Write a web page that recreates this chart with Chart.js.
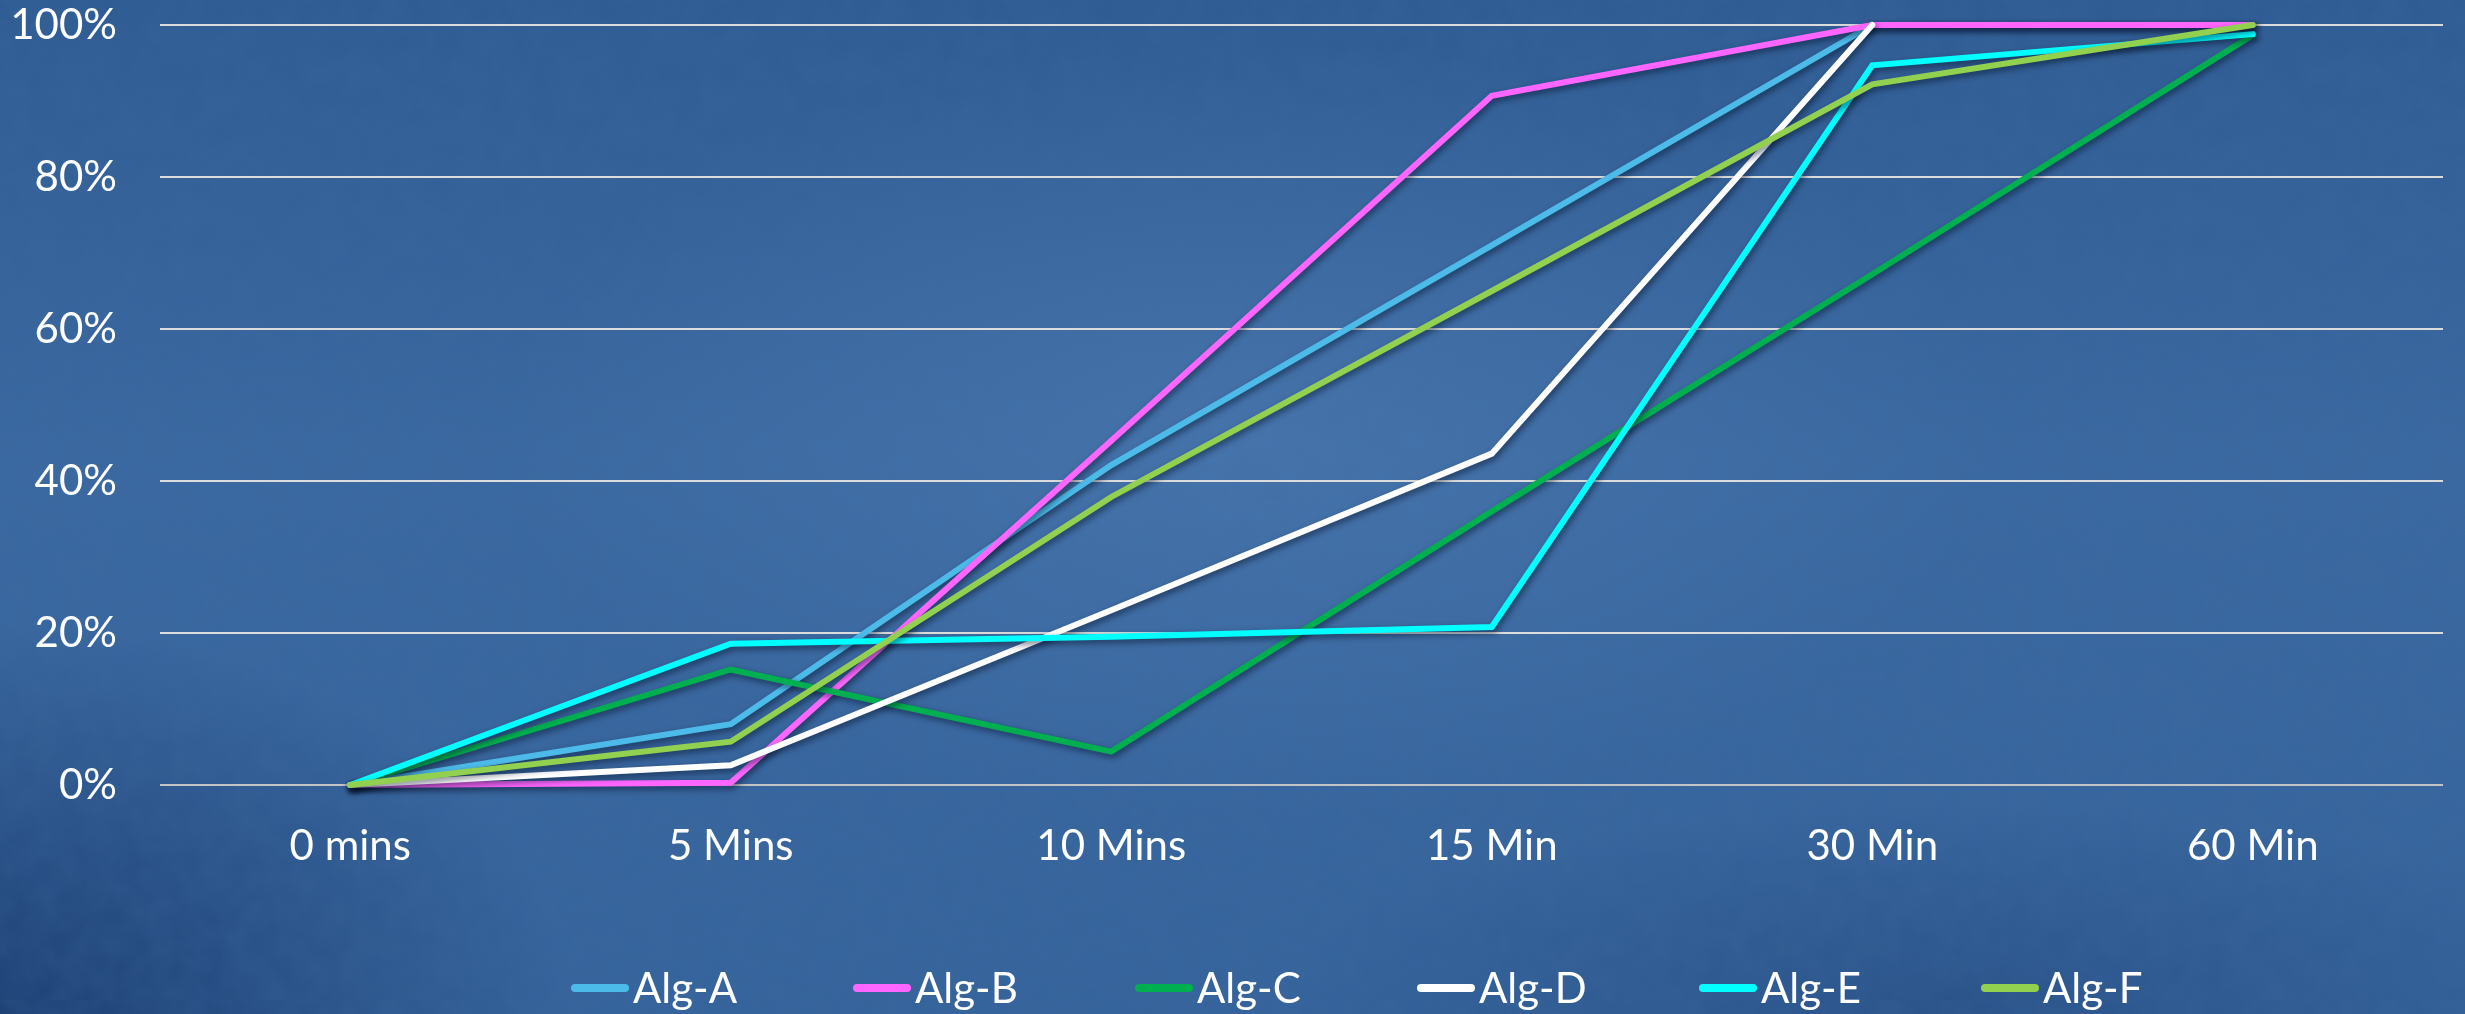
<!DOCTYPE html>
<html>
<head>
<meta charset="utf-8">
<title>Algorithm completion over time</title>
<script src="https://cdn.jsdelivr.net/npm/chart.js@4.4.1/dist/chart.umd.min.js"></script>
<style>
  html, body { margin: 0; padding: 0; width: 2465px; height: 1014px; overflow: hidden; }
  body {
    background:
      url("data:image/svg+xml;utf8,<svg xmlns='http://www.w3.org/2000/svg' width='500' height='500'><filter id='n'><feTurbulence type='fractalNoise' baseFrequency='0.035' numOctaves='4' seed='7' stitchTiles='stitch'/><feColorMatrix values='0 0 0 0 0.05  0 0 0 0 0.15  0 0 0 0 0.35  0 0 0 0.35 -0.08'/></filter><rect width='100%' height='100%' filter='url(%23n)'/></svg>"),
      radial-gradient(ellipse 1000px 520px at 1250px 430px, rgba(92,138,192,0.35), rgba(92,138,192,0) 75%),
      radial-gradient(ellipse 760px 520px at 0px 1014px, rgba(14,42,92,0.6), rgba(14,42,92,0) 75%),
      radial-gradient(ellipse 900px 260px at 1950px 1000px, rgba(18,48,100,0.3), rgba(18,48,100,0) 75%),
      linear-gradient(180deg, #2f5c93 0%, #3a68a0 45%, #35639b 100%);
  }
  #c { display: block; }
</style>
</head>
<body>
<canvas id="c" width="2465" height="1014"></canvas>
<script>
// Time points along the x axis
const categories = ['0 mins', '5 Mins', '10 Mins', '15 Min', '30 Min', '60 Min'];

// Share of runs finished (%) for each algorithm at every time point
const algA = [0, 8.0, 42.1, 71.0, 100, 100];
const algB = [0, 0.3, 45.3, 90.7, 100, 100];
const algC = [0, 15.2, 4.4, 36.0, 67.2, 98.7];
const algD = [0, 2.6, 23.0, 43.6, 100, null];
const algE = [0, 18.6, 19.5, 20.8, 94.7, 98.8];
const algF = [0, 5.7, 37.9, 65.0, 92.2, 100];

// Y axis ticks (percent)
const yTicks = [0, 20, 40, 60, 80, 100];

const seriesNames  = ['Alg-A', 'Alg-B', 'Alg-C', 'Alg-D', 'Alg-E', 'Alg-F'];
const seriesValues = [algA, algB, algC, algD, algE, algF];
const seriesColors = ['#4dbbe9', '#ff66ff', '#00b050', '#ffffff', '#00ffff', '#92d050'];

const FONT = 'Lato';
const FONT_SIZE = 42;

// Soft drop shadow under the plotted lines
const lineShadow = {
  id: 'lineShadow',
  beforeDatasetsDraw(chart) {
    const ctx = chart.ctx;
    ctx.save();
    ctx.shadowColor = 'rgba(0, 12, 35, 0.55)';
    ctx.shadowBlur = 6;
    ctx.shadowOffsetX = 2;
    ctx.shadowOffsetY = 3;
  },
  afterDatasetsDraw(chart) {
    chart.ctx.restore();
  }
};

// Legend row along the bottom: short line swatch followed by the series name
const bottomLegend = {
  id: 'bottomLegend',
  afterDraw(chart) {
    const ctx = chart.ctx;
    const x0 = 571, step = 282, y = 988;
    ctx.save();
    ctx.font = FONT_SIZE + 'px ' + FONT;
    ctx.textBaseline = 'alphabetic';
    ctx.textAlign = 'left';
    chart.data.datasets.forEach((ds, i) => {
      const x = x0 + i * step;
      ctx.strokeStyle = ds.borderColor;
      ctx.lineWidth = 8;
      ctx.lineCap = 'round';
      ctx.beginPath();
      ctx.moveTo(x + 4, y);
      ctx.lineTo(x + 54, y);
      ctx.stroke();
      ctx.fillStyle = '#ffffff';
      ctx.fillText(ds.label, x + 62, 1003);
    });
    ctx.restore();
  }
};

function build() {
  const datasets = seriesNames.map((name, i) => ({
    label: name,
    data: seriesValues[i],
    borderColor: seriesColors[i],
    backgroundColor: seriesColors[i],
    borderWidth: 6,
    borderCapStyle: 'round',
    borderJoinStyle: 'miter',
    pointRadius: 0,
    pointHoverRadius: 0,
    tension: 0,
    spanGaps: false,
    fill: false,
    clip: false,
    // later series are painted over earlier ones
    order: seriesNames.length - i
  }));

  new Chart(document.getElementById('c'), {
    type: 'line',
    data: { labels: categories, datasets },
    plugins: [lineShadow, bottomLegend],
    options: {
      responsive: false,
      animation: false,
      devicePixelRatio: 1,
      layout: { padding: { top: 25, right: 22, left: 0, bottom: 0 } },
      plugins: {
        legend: { display: false },
        tooltip: { enabled: false },
        title: { display: false }
      },
      scales: {
        x: {
          offset: true,
          grid: { display: false, drawTicks: false },
          border: { display: false },
          ticks: {
            color: '#ffffff',
            font: { family: FONT, size: FONT_SIZE },
            padding: 36,
            maxRotation: 0,
            autoSkip: false
          },
          afterFit(scale) {
            scale.height = 229;
            scale.paddingLeft = 0;
            scale.paddingRight = 0;
          }
        },
        y: {
          min: yTicks[0],
          max: yTicks[yTicks.length - 1],
          afterBuildTicks(scale) { scale.ticks = yTicks.map(v => ({ value: v })); },
          grid: {
            color: c => (c.tick && c.tick.value === 0 ? '#c4c4c4' : '#dcdcdc'),
            lineWidth: 2,
            drawTicks: false
          },
          border: { display: false },
          ticks: {
            color: '#ffffff',
            font: { family: FONT, size: FONT_SIZE },
            padding: 43,
            callback: v => v + '%'
          },
          afterFit(scale) {
            scale.width = 160;
            scale.paddingTop = 0;
            scale.paddingBottom = 0;
          }
        }
      }
    }
  });
}

document.fonts.load(FONT_SIZE + 'px ' + FONT).then(build, build);
</script>
</body>
</html>
